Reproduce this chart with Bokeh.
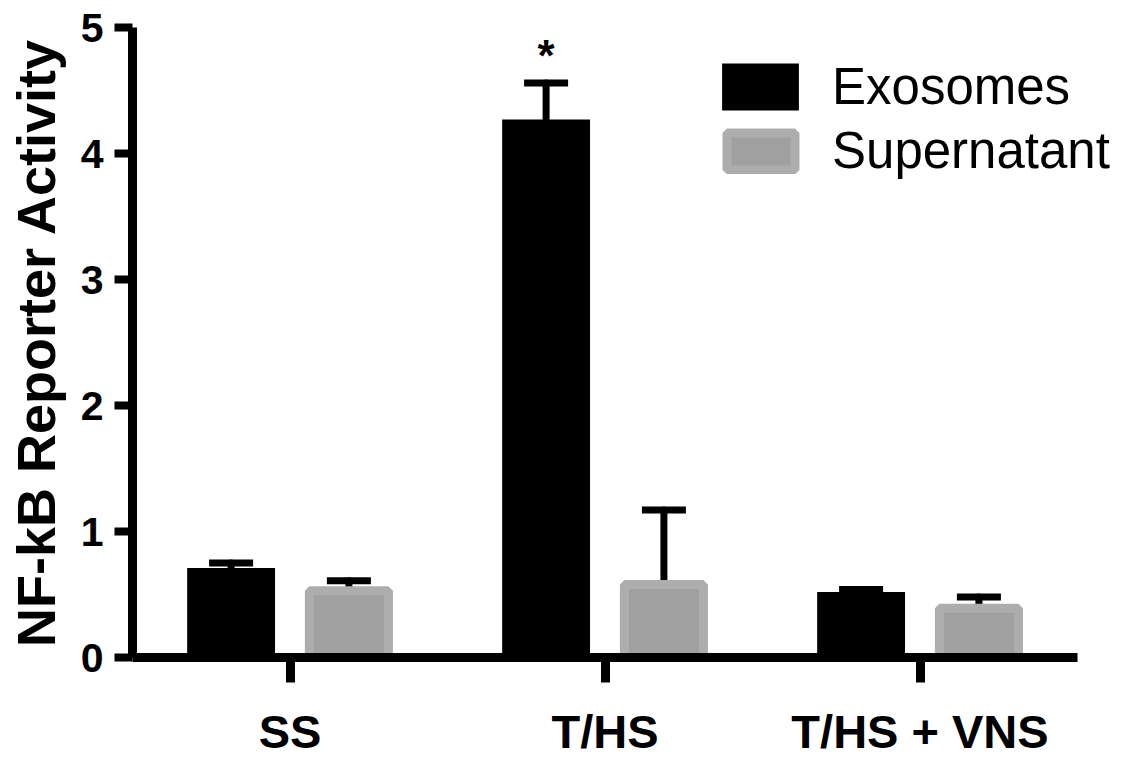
import numpy as np
from bokeh.plotting import figure
from bokeh.models import (ColumnDataSource, FixedTicker, Whisker, TeeHead,
                          Legend, LegendItem, Range1d)
from bokeh.core.properties import value
from bokeh.embed import file_html
from bokeh.resources import INLINE

# ---- data ----
groups = ["SS", "T/HS", "T/HS + VNS"]
exosomes = [0.71, 4.27, 0.52]
exosomes_err = [0.04, 0.29, 0.02]
supernatant = [0.53, 0.58, 0.39]
supernatant_err = [0.08, 0.59, 0.09]
y_ticks = [0, 1, 2, 3, 4, 5]
star_label = "*"

FONT = "Liberation Sans"
idx = np.arange(1, len(groups) + 1)
off = 0.187
x_start, x_axis_end = 0.5, 3.5

p = figure(width=1117, height=744, output_backend="svg", toolbar_location=None,
           x_range=Range1d(x_start, x_start + 985 / 315), y_range=Range1d(0, 5),
           frame_width=985, frame_height=630,
           min_border_left=132, min_border_top=27, min_border_right=0,
           min_border_bottom=87)
p.outline_line_color = None
p.xgrid.visible = False
p.ygrid.visible = False
p.background_fill_color = "white"

exo_src = ColumnDataSource(dict(x=idx - off, top=exosomes,
                                up=np.array(exosomes) + np.array(exosomes_err)))
sup_src = ColumnDataSource(dict(x=idx + off, top=supernatant,
                                up=np.array(supernatant) + np.array(supernatant_err)))

r_exo = p.vbar(x="x", top="top", width=0.279, bottom=0, source=exo_src,
               fill_color="black", line_color=None)
r_sup = p.vbar(x="x", top="top", width=0.251, bottom=0, source=sup_src,
               fill_color="#a0a0a0", line_color="#adadad", line_width=9)

for src in (exo_src, sup_src):
    w = Whisker(base="x", lower="top", upper="up", source=src,
                line_color="black", line_width=7, line_cap="round",
                upper_head=TeeHead(size=44, line_width=7, line_color="black"),
                lower_head=None)
    p.add_layout(w)

p.text(x=[idx[1] - off], y=[exosomes[1] + exosomes_err[1]], text=[star_label],
       text_font=value(FONT), text_font_style="bold", text_font_size="44px",
       text_align="center", text_baseline="alphabetic", y_offset=-27,
       text_color="black")

# axes
p.xaxis.bounds = (x_start, x_axis_end)
p.xaxis.ticker = FixedTicker(ticks=list(idx))
p.xaxis.major_label_overrides = {int(i): g for i, g in zip(idx, groups)}
p.xaxis.major_label_text_font = FONT
p.xaxis.major_label_text_font_style = "bold"
p.xaxis.major_label_text_font_size = "47px"
p.xaxis.major_label_text_color = "black"
p.xaxis.major_tick_out = 25
p.xaxis.major_tick_in = 0
p.xaxis.minor_tick_line_color = None
p.xaxis.major_tick_line_width = 9
p.xaxis.axis_line_width = 9
p.xaxis.major_label_standoff = 22

p.yaxis.ticker = FixedTicker(ticks=y_ticks)
p.yaxis.major_label_text_font = FONT
p.yaxis.major_label_text_font_style = "bold"
p.yaxis.major_label_text_font_size = "41px"
p.yaxis.major_label_text_color = "black"
p.yaxis.major_tick_out = 18
p.yaxis.major_tick_in = 0
p.yaxis.major_tick_line_width = 8
p.yaxis.minor_tick_line_color = None
p.yaxis.axis_line_width = 9
p.yaxis.major_label_standoff = 11
p.yaxis.axis_label = "NF-kB Reporter Activity"
p.yaxis.axis_label_text_font = FONT
p.yaxis.axis_label_text_font_style = "bold"
p.yaxis.axis_label_text_font_size = "54px"
p.yaxis.axis_label_text_color = "black"
p.yaxis.axis_label_standoff = 12
for ax in (p.xaxis, p.yaxis):
    ax.axis_line_color = "black"
    ax.major_tick_line_color = "black"

leg1 = Legend(items=[LegendItem(label="Exosomes", renderers=[r_exo])],
              location=(580, 541), glyph_width=96, glyph_height=59,
              label_standoff=24, padding=0, margin=0,
              label_text_font=FONT, label_text_font_size="51px",
              label_text_color="black",
              border_line_color=None, background_fill_alpha=0)
leg2 = Legend(items=[LegendItem(label="Supernatant", renderers=[r_sup])],
              location=(586, 477), glyph_width=85, glyph_height=46,
              label_standoff=29, padding=0, margin=0,
              label_text_font=FONT, label_text_font_size="51px",
              label_text_color="black",
              border_line_color=None, background_fill_alpha=0)
p.add_layout(leg1)
p.add_layout(leg2)

open("out.html", "w").write(file_html(p, INLINE))
